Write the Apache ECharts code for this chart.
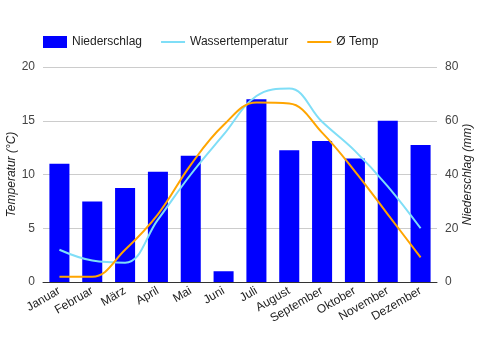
<!DOCTYPE html>
<html>
<head>
<meta charset="utf-8">
<script src="https://cdn.jsdelivr.net/npm/echarts@6/dist/echarts.min.js"></script>
<style>
  html, body { margin: 0; padding: 0; background: #fff; }
  #main { width: 481px; height: 350px; }
</style>
</head>
<body>
<div id="main"></div>
<script>
const months = ['Januar', 'Februar', 'März', 'April', 'Mai', 'Juni', 'Juli', 'August', 'September', 'Oktober', 'November', 'Dezember'];
const niederschlag = [44, 30, 35, 41, 47, 4, 68, 49, 52.5, 46, 60, 51];
const wassertemp = [3.0, 2.0, 1.8, 5.8, 10.0, 13.7, 17.3, 18.0, 14.9, 12.2, 8.9, 5.0];
const avgTemp = [0.5, 0.5, 3.0, 6.3, 10.9, 14.6, 16.7, 16.6, 13.9, 10.3, 6.3, 2.3];

const font = 'Liberation Sans, Arial, sans-serif';
const chart = echarts.init(document.getElementById('main'));

const option = {
  animation: false,
  textStyle: {fontFamily: font},
  legend: {
    left: 43,
    top: 36,
    padding: 0,
    itemWidth: 24,
    itemHeight: 12,
    itemGap: 18,
    itemTextGap: 5,
    textStyle: {fontSize: 12, color: '#222', fontFamily: font},
    data: [
      {name: 'Niederschlag', icon: 'rect'},
      {name: 'Wassertemperatur', itemStyle: {opacity: 0}},
      {name: 'Ø Temp', itemStyle: {opacity: 0}}
    ]
  },
  grid: {left: 43, right: 44, top: 67, bottom: 68, outerBoundsMode: 'none', containLabel: false},
  xAxis: {
    type: 'category',
    data: months,
    axisTick: {show: false},
    axisLine: {lineStyle: {color: '#333', width: 1}},
    axisLabel: {rotate: 30, fontSize: 12, color: '#222', margin: 8, interval: 0, fontFamily: font}
  },
  yAxis: [
    {
      type: 'value', min: 0, max: 20, interval: 5,
      name: 'Temperatur (°C)', nameLocation: 'middle', nameRotate: 90, nameGap: 25,
      nameMoveOverlap: false,
      nameTextStyle: {fontStyle: 'italic', fontSize: 12, color: '#222', fontFamily: font},
      axisLabel: {fontSize: 12, color: '#444', margin: 8, fontFamily: font},
      splitLine: {lineStyle: {color: '#ccc'}}
    },
    {
      type: 'value', min: 0, max: 80, interval: 20, position: 'right',
      name: 'Niederschlag (mm)', nameLocation: 'middle', nameRotate: 90, nameGap: 25,
      nameMoveOverlap: false,
      nameTextStyle: {fontStyle: 'italic', fontSize: 12, color: '#222', fontFamily: font},
      axisLabel: {fontSize: 12, color: '#444', margin: 8, fontFamily: font},
      splitLine: {show: false}
    }
  ],
  series: [
    {
      name: 'Niederschlag',
      type: 'bar',
      yAxisIndex: 1,
      data: niederschlag,
      barWidth: '61%',
      itemStyle: {color: '#0000ff'},
      z: 1
    },
    {
      name: 'Wassertemperatur',
      type: 'line',
      yAxisIndex: 0,
      data: wassertemp,
      smooth: 0.4,
      symbol: 'none',
      lineStyle: {color: '#7fdef7', width: 2},
      itemStyle: {color: '#7fdef7'},
      z: 3
    },
    {
      name: 'Ø Temp',
      type: 'line',
      yAxisIndex: 0,
      data: avgTemp,
      smooth: 0.4,
      symbol: 'none',
      lineStyle: {color: '#ffa500', width: 2},
      itemStyle: {color: '#ffa500'},
      z: 4
    }
  ]
};
chart.setOption(option);
</script>
</body>
</html>
